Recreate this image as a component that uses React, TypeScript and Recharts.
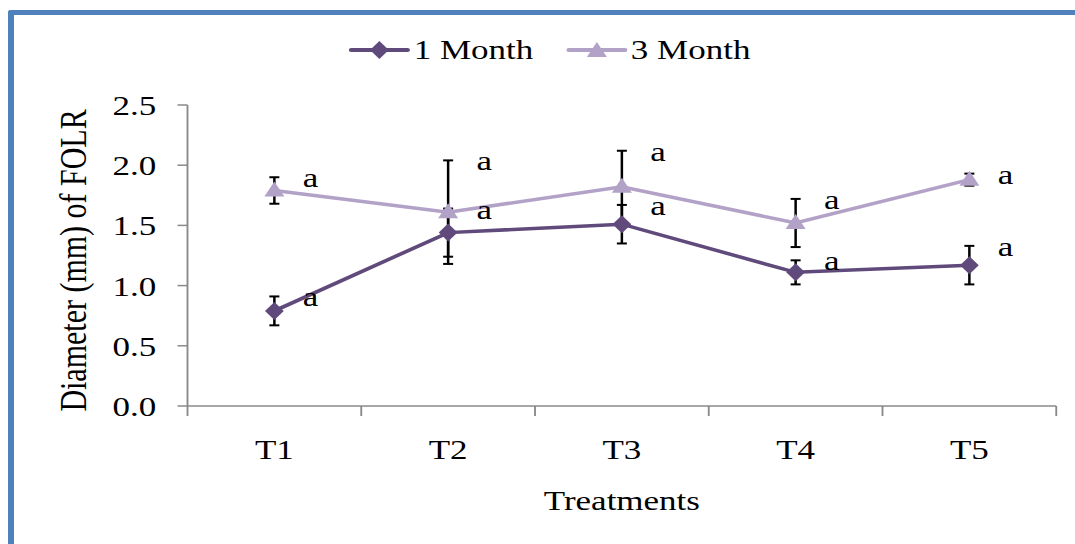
import React from "react";
import { LineChart, Line, XAxis, YAxis, ErrorBar, Legend, LabelList, Label } from "recharts";

const treatments = ["T1", "T2", "T3", "T4", "T5"];
const oneMonth = [0.79, 1.44, 1.51, 1.11, 1.17];
const oneMonthErr = [0.12, 0.2, 0.16, 0.1, 0.16];
const threeMonth = [1.79, 1.61, 1.82, 1.52, 1.88];
const threeMonthErr = [0.11, 0.43, 0.3, 0.2, 0.05];
const oneMonthLetters = ["a", "a", "a", "a", "a"];
const threeMonthLetters = ["a", "a", "a", "a", "a"];
const yTicks = [0, 0.5, 1, 1.5, 2, 2.5];

const data = treatments.map((t, i) => ({
  t,
  m1: oneMonth[i],
  m1Err: oneMonthErr[i],
  m1Letter: oneMonthLetters[i],
  m3: threeMonth[i],
  m3Err: threeMonthErr[i],
  m3Letter: threeMonthLetters[i],
}));

const DARK = "#604A7B";
const LIGHT = "#B3A2C7";
const AXIS = "#8a8a8a";
const FONT = "'Liberation Serif', 'Times New Roman', serif";
const STRETCH = 1.25;
const W = 860;
const H = 544;

function Diamond({ cx, cy, fill }: { cx: number; cy: number; fill: string }) {
  return <polygon points={`${cx},${cy - 9} ${cx + 7.5},${cy} ${cx},${cy + 9} ${cx - 7.5},${cy}`} fill={fill} />;
}

function Triangle({ cx, cy, fill }: { cx: number; cy: number; fill: string }) {
  return <polygon points={`${cx},${cy - 9} ${cx + 8},${cy + 6} ${cx - 8},${cy + 6}`} fill={fill} />;
}

function XTick(props: any) {
  const { x, y, payload, index, visibleTicksCount, width } = props;
  const band = width / visibleTicksCount;
  return (
    <g>
      <line x1={x - band / 2} x2={x - band / 2} y1={y} y2={y + 10} stroke={AXIS} strokeWidth={1.5} />
      {index === visibleTicksCount - 1 && (
        <line x1={x + band / 2} x2={x + band / 2} y1={y} y2={y + 10} stroke={AXIS} strokeWidth={1.5} />
      )}
      <text x={x} y={y + 53} textAnchor="middle" fontSize={28} fontFamily={FONT} fill="#000">
        {payload.value}
      </text>
    </g>
  );
}

function letterLabel(props: any) {
  const { x, y, value } = props;
  return (
    <text x={x + 29} y={y + 10} textAnchor="middle" fontSize={28} fontFamily={FONT} fill="#000">
      {value}
    </text>
  );
}

function LegendBox() {
  const item = (label: string, color: string, marker: React.ReactNode, gap: number) => (
    <div style={{ display: "flex", alignItems: "center", marginLeft: gap }}>
      <svg width={49} height={24}>
        <line x1={2} x2={47} y1={12} y2={12} stroke={color} strokeWidth={4} strokeLinecap="round" />
        {marker}
      </svg>
      <span style={{ marginLeft: 3, fontSize: 28, fontFamily: FONT, color: "#000", lineHeight: "24px" }}>{label}</span>
    </div>
  );
  return (
    <div style={{ display: "flex", alignItems: "center", height: 24, whiteSpace: "nowrap" }}>
      {item("1 Month", DARK, <Diamond cx={24.5} cy={12} fill={DARK} />, 0)}
      {item("3 Month", LIGHT, <Triangle cx={24.5} cy={13} fill={LIGHT} />, 26)}
    </div>
  );
}

export default function App() {
  return (
    <div style={{ position: "absolute", left: 0, top: 0, width: 1075, height: 544, overflow: "hidden", background: "#fff" }}>
      <div
        style={{
          position: "absolute",
          left: 8,
          top: 10,
          width: 1100,
          height: 560,
          borderTop: "5px solid #4F81BD",
          borderLeft: "6px solid #4F81BD",
          borderTopLeftRadius: 3,
          boxSizing: "border-box",
        }}
      />
      <div style={{ position: "absolute", left: 0, top: 0, transform: `scaleX(${STRETCH})`, transformOrigin: "0 0" }}>
        <LineChart width={W} height={H} data={data} margin={{ top: 81, right: 15, bottom: 28, left: 0 }}>
          <Legend
            verticalAlign="top"
            height={24}
            wrapperStyle={{ top: 38, left: 279, width: "auto" }}
            content={() => <LegendBox />}
          />
          <XAxis
            dataKey="t"
            scale="band"
            height={110}
            tickLine={false}
            tickSize={0}
            tickMargin={0}
            axisLine={{ stroke: AXIS, strokeWidth: 1.5 }}
            tick={<XTick />}
            interval={0}
          >
            <Label
              content={(p: any) => (
                <text
                  x={p.viewBox.x + p.viewBox.width / 2}
                  y={p.viewBox.y + 104}
                  textAnchor="middle"
                  fontSize={28}
                  fontFamily={FONT}
                  fill="#000"
                >
                  Treatments
                </text>
              )}
            />
          </XAxis>
          <YAxis
            domain={[0, 2.5]}
            ticks={yTicks}
            width={150}
            tickSize={8}
            tickMargin={17}
            tickFormatter={(v: number) => v.toFixed(1)}
            tick={{ fill: "#000", fontSize: 28, fontFamily: FONT }}
            axisLine={{ stroke: AXIS, strokeWidth: 1.5 }}
            tickLine={{ stroke: AXIS, strokeWidth: 1.5 }}
          >
            <Label
              content={(p: any) => {
                const cx = 69;
                const cy = p.viewBox.y + p.viewBox.height / 2 + 5;
                return (
                  <text
                    x={cx}
                    y={cy}
                    transform={`rotate(-90 ${cx} ${cy})`}
                    textAnchor="middle"
                    fontSize={30}
                    fontFamily={FONT}
                    fill="#000"
                  >
                    Diameter (mm) of FOLR
                  </text>
                );
              }}
            />
          </YAxis>
          <Line
            dataKey="m3"
            name="3 Month"
            stroke={LIGHT}
            strokeWidth={3.5}
            isAnimationActive={false}
            dot={(p: any) => <Triangle key={`t-${p.index}`} cx={p.cx} cy={p.cy} fill={LIGHT} />}
            activeDot={false}
          >
            <ErrorBar dataKey="m3Err" width={4} strokeWidth={2} stroke="#000" direction="y" />
          </Line>
          <Line
            dataKey="m1"
            name="1 Month"
            stroke={DARK}
            strokeWidth={3.5}
            isAnimationActive={false}
            dot={(p: any) => <Diamond key={`d-${p.index}`} cx={p.cx} cy={p.cy} fill={DARK} />}
            activeDot={false}
          >
            <ErrorBar dataKey="m1Err" width={4} strokeWidth={2} stroke="#000" direction="y" />
          </Line>
          <Line
            dataKey={(d: any) => d.m3 + d.m3Err}
            stroke="none"
            dot={false}
            activeDot={false}
            legendType="none"
            isAnimationActive={false}
          >
            <LabelList dataKey="m3Letter" content={letterLabel} />
          </Line>
          <Line
            dataKey={(d: any) => d.m1 + d.m1Err}
            stroke="none"
            dot={false}
            activeDot={false}
            legendType="none"
            isAnimationActive={false}
          >
            <LabelList dataKey="m1Letter" content={letterLabel} />
          </Line>
        </LineChart>
      </div>
    </div>
  );
}
